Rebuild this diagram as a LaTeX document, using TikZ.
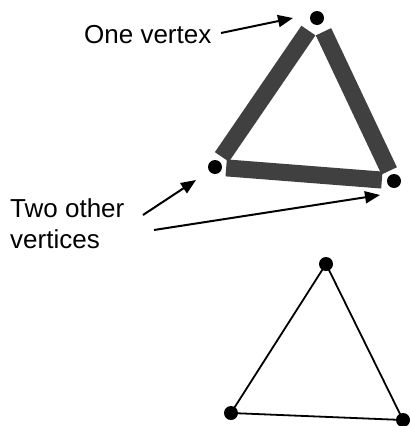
\documentclass[tikz,border=0pt]{standalone}
\usepackage{fontspec}
\setmainfont{Liberation Sans}
\usetikzlibrary{arrows.meta}
\definecolor{bandgray}{HTML}{404040}
\begin{document}
\begin{tikzpicture}[x=1pt,y=-1pt,
  vdot/.style={circle,fill=black,inner sep=0pt,minimum size=14pt},
  band/.style={draw=bandgray,line width=17pt,line cap=butt},
  thin edge/.style={draw=black,line width=1.8pt},
  arr/.style={draw=black,line width=2pt,-{Triangle[length=15pt,width=12pt]}},
  lbl/.style={inner sep=0pt,font=\fontsize{26}{31}\selectfont}]
\useasboundingbox (0,0) rectangle (410,426);
% top triangle vertices
\node[vdot] (T) at (317,18) {};
\node[vdot] (L) at (215,167) {};
\node[vdot] (R) at (394,181) {};
% thick bands
\draw[band,shorten <=5pt,shorten >=8pt] (L) -- (T);
\draw[band,shorten <=8pt,shorten >=4pt] (T) -- (R);
\draw[band,shorten <=4pt,shorten >=5pt] (L) -- (R);
% bottom triangle
\node[vdot] (T2) at (326,264) {};
\node[vdot] (L2) at (231,413) {};
\node[vdot] (R2) at (403,420) {};
\draw[thin edge] (T2.center) -- (L2.center) -- (R2.center) -- cycle;
% labels
\node[lbl,anchor=base west] (one) at (84,43) {One vertex};
\node[lbl,anchor=base west,align=left] (two) at (10,248) {Two other\\vertices};
% arrows
\coordinate (a1s) at (221,33);
\coordinate (a1e) at (293,18);
\coordinate (a2s) at (143,215);
\coordinate (a2e) at (196,180);
\coordinate (a3s) at (154,230);
\coordinate (a3e) at (380,195);
\draw[arr] (a1s) -- (a1e);
\draw[arr] (a2s) -- (a2e);
\draw[arr] (a3s) -- (a3e);
\end{tikzpicture}
\end{document}
